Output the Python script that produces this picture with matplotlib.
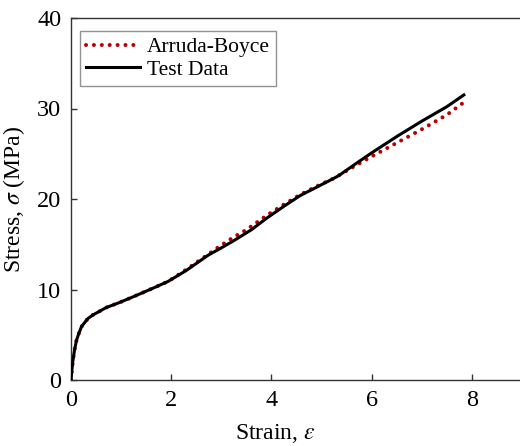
import matplotlib
matplotlib.use("Agg")
import matplotlib.pyplot as plt

# Data
test_strain = [0.0, 0.02, 0.04, 0.07, 0.11, 0.16, 0.21, 0.28, 0.34, 0.44, 0.54, 0.7, 0.94, 1.2, 1.41, 1.7,
               1.94, 2.3, 2.74, 3.0, 3.25, 3.6, 3.91, 4.25, 4.58, 4.9, 5.25, 5.35, 5.45, 5.71,
               6.0, 6.5, 7.0, 7.5, 7.84]
test_stress = [0.0, 1.2, 2.2, 3.3, 4.4, 5.2, 5.9, 6.4, 6.8, 7.2, 7.5, 8.0, 8.5, 9.1, 9.6, 10.3,
               10.9, 12.1, 13.8, 14.6, 15.4, 16.6, 17.9, 19.2, 20.4, 21.3, 22.3, 22.6, 23.0, 24.0,
               25.1, 26.9, 28.6, 30.2, 31.5]

ab_strain = [0.0, 0.02, 0.04, 0.07, 0.11, 0.16, 0.21, 0.28, 0.34, 0.44, 0.54, 0.7, 0.94, 1.2, 1.41, 1.7,
             1.94, 2.3, 2.74, 3.0, 3.25, 3.5, 3.91, 4.25, 4.58, 4.9, 5.25, 5.71,
             6.0, 6.5, 7.0, 7.5, 7.82]
ab_stress = [0.0, 1.2, 2.2, 3.3, 4.4, 5.2, 5.9, 6.4, 6.8, 7.2, 7.5, 8.0, 8.5, 9.1, 9.6, 10.3,
             10.9, 12.2, 13.9, 14.9, 15.8, 16.6, 18.2, 19.4, 20.5, 21.4, 22.3, 23.8,
             24.7, 26.2, 27.7, 29.3, 30.6]

xticks = [0, 2, 4, 6, 8]
yticks = [0, 10, 20, 30, 40]

plt.rcParams['font.family'] = ['Liberation Serif', 'DejaVu Serif']
plt.rcParams['mathtext.fontset'] = 'stix'

fig = plt.figure(figsize=(5.2, 4.46), dpi=100)
ax = fig.add_axes([71/520, 66/446, 451/520, 362/446])

ax.plot(ab_strain, ab_stress, linestyle=(0, (0.01, 1.95)), color='#b80000', lw=2.9,
        dash_capstyle='round', label='Arruda-Boyce', zorder=2)
ax.plot(test_strain, test_stress, color='black', lw=2.2, label='Test Data', zorder=3)

ax.set_xlim(0, 9)
ax.set_ylim(0, 40)
ax.set_xticks(xticks)
ax.set_yticks(yticks)
ax.tick_params(direction='in', length=4, width=1, labelsize=17.5, colors='#333333',
               labelcolor='black')
ax.tick_params(axis='y', pad=7)
ax.tick_params(axis='x', pad=7)
for s in ax.spines.values():
    s.set_color('#333333')
    s.set_linewidth(1.0)

ax.set_xlabel(r'Strain, $\varepsilon$', fontsize=17)
ax.set_ylabel(r'Stress, $\sigma$ (MPa)', fontsize=17)
ax.xaxis.set_label_coords(0.453, -0.115)
ax.yaxis.set_label_coords(-0.097, 0.5)

leg = ax.legend(loc='upper left', bbox_to_anchor=(0.02, 0.965), fontsize=15.5, frameon=True,
                fancybox=False, handlelength=2.5, handletextpad=0.3, borderpad=0.3,
                labelspacing=0.12, borderaxespad=0)
leg.get_frame().set_edgecolor('#777777')
leg.get_frame().set_linewidth(1.0)

fig.savefig('out.png', dpi=100)
